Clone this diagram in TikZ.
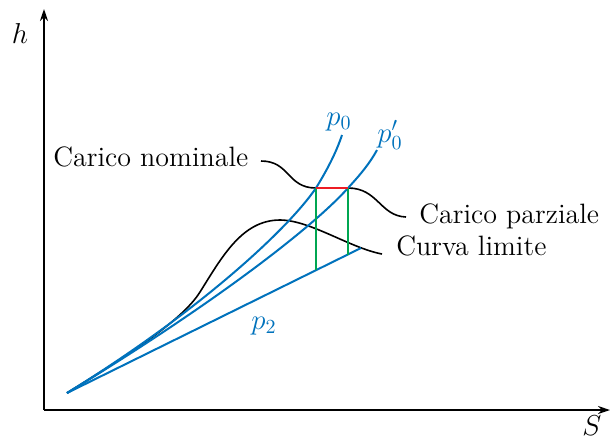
\documentclass[tikz,border=0pt]{standalone}
\usetikzlibrary{arrows.meta}
\definecolor{cblue}{RGB}{0,114,188}
\definecolor{cgreen}{RGB}{0,166,81}
\definecolor{cred}{RGB}{237,28,36}
\begin{document}
\begin{tikzpicture}[x=0.5pt,y=-0.5pt,
  axis/.style={line width=0.7pt,-{Stealth[length=6pt,width=4pt]}},
  pline/.style={cblue,line width=1pt},
  bline/.style={black,line width=0.8pt},
  gline/.style={cgreen,line width=1.4pt},
  rline/.style={cred,line width=1.4pt},
  lbl/.style={font=\fontsize{14}{17}\selectfont,inner sep=0pt},
  plbl/.style={lbl,text=cblue}]
\useasboundingbox (0,0) rectangle (616,441);
% axes
\coordinate (corner) at (44,410);
\coordinate (ytip) at (44,9);
\coordinate (xtip) at (610,410);
\draw[axis] (corner) -- (ytip);
\draw[axis] (corner) -- (xtip);
\node[lbl] (hlab) at (20,33) {$h$};
\node[lbl] (slab) at (592,426) {$S$};
% key points
\coordinate (O) at (67,393);
\coordinate (A) at (316,188);
\coordinate (B) at (348,188);
\coordinate (A2) at (316,270.2);
\coordinate (B2) at (348,254.5);
\coordinate (p2end) at (361,248);
\coordinate (p0top) at (342,135);
\coordinate (p0ptop) at (377,150);
% curva limite
\coordinate (cl1) at (200,292);
\coordinate (clpk) at (280,220);
\coordinate (clend) at (382,254);
\draw[bline] (O) .. controls (125,357) and (182,321) .. (cl1)
  .. controls (222,257) and (242,220) .. (clpk)
  .. controls (310,220) and (350,248) .. (clend);
% carico nominale / parziale
\coordinate (cn) at (261,161);
\coordinate (cp) at (406,217);
\draw[bline] (cn) .. controls (290,161) and (287,188) .. (A) -- (B)
  .. controls (378,188) and (380,216) .. (cp);
% blue curves
\draw[pline] (O) -- (p2end);
\draw[pline] (O) .. controls (200,311) and (288,229) .. (A)
  .. controls (327,170) and (336,153) .. (p0top);
\draw[pline] (O) .. controls (220,300) and (315,225) .. (B)
  .. controls (360,175) and (370,163) .. (p0ptop);
% green and red
\draw[gline] (A) -- (A2);
\draw[gline] (B) -- (B2);
\draw[rline] (A) -- (B);
% labels
\node[plbl] (p0lab) at (339,122) {$p_0$};
\node[plbl] (p0plab) at (390,135) {$p_0'$};
\node[plbl] (p2lab) at (264,326) {$p_2$};
\node[lbl,anchor=base west] (cnlab) at (53,166) {Carico nominale};
\node[lbl,anchor=base west] (cplab) at (419,223) {Carico parziale};
\node[lbl,anchor=base west] (cllab) at (396,255) {Curva limite};
\end{tikzpicture}
\end{document}
